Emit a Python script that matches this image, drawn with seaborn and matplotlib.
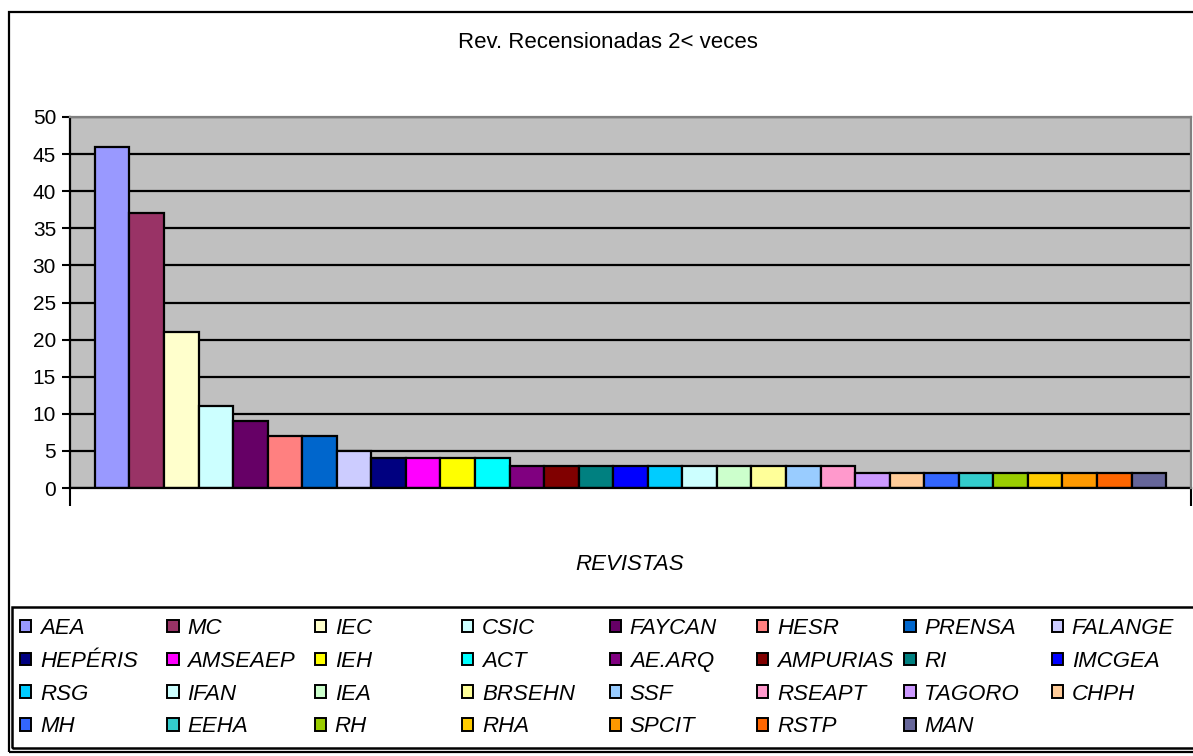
import matplotlib
matplotlib.use("Agg")
import seaborn as sns
from matplotlib import pyplot as plt
from matplotlib.patches import Patch, Rectangle

W, H = 1193, 756

TITLE = "Rev. Recensionadas 2< veces"
XLABEL = "REVISTAS"

revistas = [
    "AEA", "MC", "IEC", "CSIC", "FAYCAN", "HESR", "PRENSA", "FALANGE",
    "HEPÉRIS", "AMSEAEP", "IEH", "ACT", "AE.ARQ", "AMPURIAS", "RI", "IMCGEA",
    "RSG", "IFAN", "IEA", "BRSEHN", "SSF", "RSEAPT", "TAGORO", "CHPH",
    "MH", "EEHA", "RH", "RHA", "SPCIT", "RSTP", "MAN",
]
recensiones = [
    46, 37, 21, 11, 9, 7, 7, 5,
    4, 4, 4, 4, 3, 3, 3, 3,
    3, 3, 3, 3, 3, 3, 2, 2,
    2, 2, 2, 2, 2, 2, 2,
]
colores = [
    "#9999FF", "#993366", "#FFFFCC", "#CCFFFF", "#660066", "#FF8080", "#0066CC", "#CCCCFF",
    "#000080", "#FF00FF", "#FFFF00", "#00FFFF", "#800080", "#800000", "#008080", "#0000FF",
    "#00CCFF", "#CCFFFF", "#CCFFCC", "#FFFF99", "#99CCFF", "#FF99CC", "#CC99FF", "#FFCC99",
    "#3366FF", "#33CCCC", "#99CC00", "#FFCC00", "#FF9900", "#FF6600", "#666699",
]
y_ticks = [0, 5, 10, 15, 20, 25, 30, 35, 40, 45, 50]

sns.set_style("white")
plt.rcParams["font.family"] = ["Liberation Sans", "DejaVu Sans"]
plt.rcParams["text.color"] = "black"
plt.rcParams["xtick.color"] = "black"
plt.rcParams["ytick.color"] = "black"

fig = plt.figure(figsize=(W / 100, H / 100), dpi=100)
ax = fig.add_axes([70 / W, (H - 488) / H, 1121 / W, (488 - 117) / H])
ax.set_facecolor("#C0C0C0")

sns.barplot(
    x=revistas, y=recensiones, hue=revistas, palette=colores, width=1, saturation=1,
    legend=False, edgecolor="black", linewidth=1.6, ax=ax,
)

# margin of empty space either side of the bar cluster
margin = 0.72
xmin, xmax = -0.5 - margin, len(revistas) - 0.5 + margin
ax.set_xlim(xmin, xmax)
ax.set_ylim(0, 50)

ax.set_axisbelow(True)
ax.yaxis.grid(True, color="black", linewidth=1.6)
ax.set_yticks(y_ticks)
ax.set_xticks([xmin, xmax])
ax.set_xticklabels([])
ax.tick_params(axis="y", direction="out", length=6, width=1.5, colors="black",
               labelsize=15, pad=4, left=True)
ax.tick_params(axis="x", direction="out", length=13, width=1.5, colors="black", bottom=True)
ax.set_xlabel("")
ax.set_ylabel("")

for side in ["left", "bottom"]:
    ax.spines[side].set_color("black")
    ax.spines[side].set_linewidth(1.6)
for side in ["top", "right"]:
    ax.spines[side].set_color("#808080")
    ax.spines[side].set_linewidth(1.6)
    ax.spines[side].set_zorder(3)

fig.text(608 / W, 1 - 43 / H, TITLE, ha="center", va="center", fontsize=16, color="black")
fig.text(630 / W, 1 - 564 / H, XLABEL, ha="center", va="center", fontsize=16,
         style="italic", color="black")

# outer chart border and legend box
fig.patches.append(Rectangle((9 / W, 4 / H), 1.2, (752 - 12) / H, transform=fig.transFigure,
                             fill=False, edgecolor="black", linewidth=1.6))
fig.patches.append(Rectangle((12 / W, (H - 748) / H), 1.2, (748 - 607) / H, transform=fig.transFigure,
                             fill=False, edgecolor="black", linewidth=1.8))

# legend: 8 fixed-width columns filled row by row
ncol = 8
for c in range(ncol):
    idx = list(range(c, len(revistas), ncol))
    handles = [Patch(facecolor=colores[i], edgecolor="black", linewidth=1.4) for i in idx]
    labels = [revistas[i] for i in idx]
    fig.legend(
        handles, labels, loc="upper left",
        bbox_to_anchor=((20 + 147.4 * c) / W, 1 - 618 / H),
        frameon=False, borderpad=0, borderaxespad=0,
        handlelength=0.5, handleheight=0.5, handletextpad=0.4, labelspacing=0.53,
        prop={"size": 16, "style": "italic"}, labelcolor="black",
    )

fig.savefig("out.png", dpi=100)
plt.close(fig)
